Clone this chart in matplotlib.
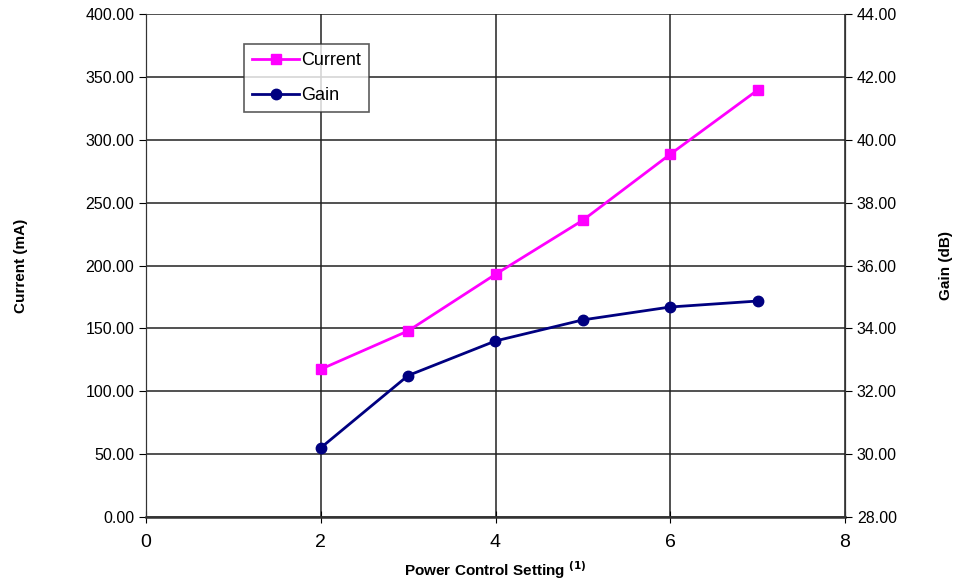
import matplotlib.pyplot as plt
import numpy as np

plt.rcParams['font.family'] = ['Liberation Sans', 'DejaVu Sans']

setting = [2, 3, 4, 5, 6, 7]
current_ma = [117.5, 148.0, 193.0, 236.0, 288.5, 339.5]
gain_db = [30.2, 32.5, 33.6, 34.27, 34.68, 34.87]

fig = plt.figure(figsize=(9.58, 5.81), dpi=100)
ax = fig.add_axes([146/958, 1-517/581, (845-146)/958, (517-14)/581])
ax2 = ax.twinx()

ax.set_xlim(0, 8)
ax.set_ylim(0, 400)
ax2.set_ylim(28, 44)
ax.set_xticks([0, 2, 4, 6, 8])
ax.set_yticks(np.arange(0, 401, 50))
ax2.set_yticks(np.arange(28, 44.1, 2))
ax.set_yticklabels(['%.2f' % v for v in np.arange(0, 401, 50)], fontsize=11.5)
ax2.set_yticklabels(['%.2f' % v for v in np.arange(28, 44.1, 2)], fontsize=11.5)
ax.tick_params(axis='x', labelsize=14, direction='inout', length=8, pad=8)
ax.tick_params(axis='y', direction='out', length=5)
ax2.tick_params(axis='y', direction='out', length=5)

ax.grid(True, color='#222222', linewidth=1.1)
ax.set_axisbelow(True)
for sp in ['top']:
    ax.spines[sp].set_visible(False)
    ax2.spines[sp].set_visible(False)
for a in (ax, ax2):
    for sp in a.spines.values():
        sp.set_color('#333333')
ax.spines['bottom'].set_linewidth(1.8)

l1, = ax.plot(setting, current_ma, color='#ff00ff', marker='s', markersize=7.5,
              linewidth=2, label='Current')
l2, = ax2.plot(setting, gain_db, color='#000080', marker='o', markersize=7.5,
               linewidth=2, label='Gain')

ax.set_ylabel('Current (mA)', fontsize=11, fontweight='bold', labelpad=41)
ax2.set_ylabel('Gain (dB)', fontsize=11, fontweight='bold', labelpad=30)
ax.set_xlabel('Power Control Setting $^{\\mathbf{(1)}}$', fontsize=11, fontweight='bold', labelpad=6)

leg = ax2.legend(handles=[l1, l2], loc='upper left', bbox_to_anchor=(98/699, 1-30/503),
                 fontsize=13, frameon=True, fancybox=False, handlelength=2.6,
                 borderpad=0.45, labelspacing=1.0, handletextpad=0.1, borderaxespad=0)
leg.get_frame().set_edgecolor('#333333')
leg.get_frame().set_linewidth(1.2)

fig.savefig('out.png', dpi=100)
